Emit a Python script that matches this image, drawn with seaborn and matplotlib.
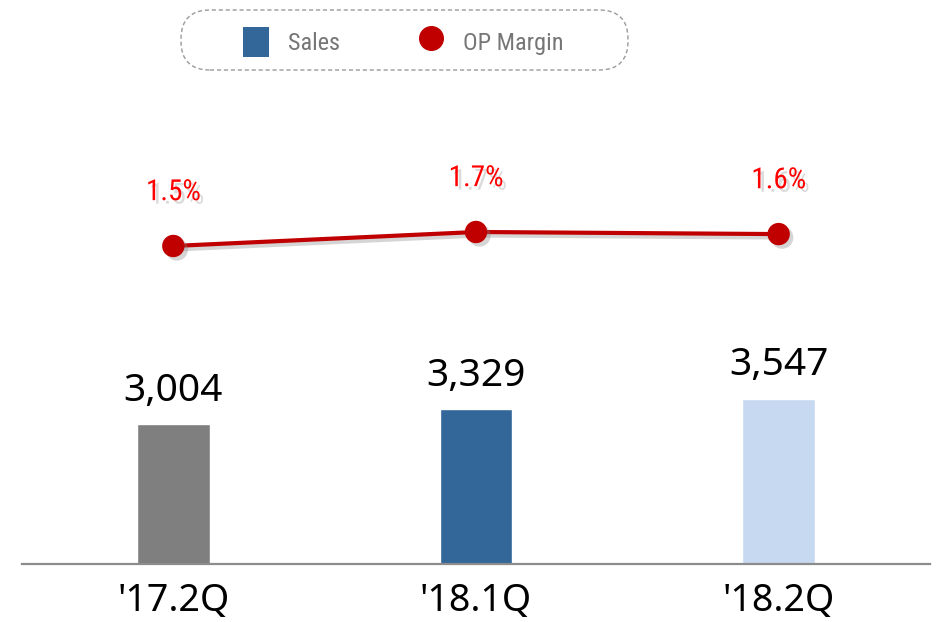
import matplotlib
matplotlib.use("Agg")
import matplotlib.pyplot as plt
import matplotlib.patheffects as pe
from matplotlib import font_manager
from matplotlib.patches import Patch, FancyBboxPatch
from matplotlib.lines import Line2D
import seaborn as sns
import pandas as pd

categories = ["'17.2Q", "'18.1Q", "'18.2Q"]
sales = [3004, 3329, 3547]
sales_labels = ["3,004", "3,329", "3,547"]
op_margin = [1.5, 1.7, 1.67]
op_labels = ["1.5%", "1.7%", "1.6%"]
bar_colors = ["#7f7f7f", "#336699", "#c6d9f1"]
line_color = "#c00000"

available = {f.name for f in font_manager.fontManager.ttflist}
narrow = "DejaVu Sans"
for cand in ["Liberation Sans Narrow", "Roboto Condensed", "Noto Sans Condensed",
             "Open Sans Condensed", "Roboto"]:
    if cand in available:
        narrow = cand
        break

sns.set_theme(style="white")
plt.rcParams['font.family'] = [narrow, 'DejaVu Sans']

df = pd.DataFrame({"cat": categories, "sales": sales})

fig = plt.figure(figsize=(9.37, 6.22), dpi=100)
ax = fig.add_axes([22/937, 58/622, 908/937, 564/622])

sns.barplot(data=df, x="cat", y="sales", hue="cat", palette=bar_colors,
            width=0.24, legend=False, ax=ax, saturation=1)
ax.set_xlim(-0.5, 2.5)
ax.set_ylim(0, 12130)
ax.set_xlabel("")
ax.set_ylabel("")
ax.set_yticks([])
for s in ["top", "left", "right"]:
    ax.spines[s].set_visible(False)
ax.spines["bottom"].set_color("#8c8c8c")
ax.spines["bottom"].set_linewidth(1.6)
ax.tick_params(axis="x", length=0, pad=13, labelsize=27, colors="black")
for lbl in ax.get_xticklabels():
    lbl.set_family(["Noto Sans", "DejaVu Sans"])

for i, (v, t) in enumerate(zip(sales, sales_labels)):
    ax.annotate(t, (i, v), xytext=(0, 17), textcoords="offset points",
                ha="center", va="baseline", fontsize=28, color="black",
                family=["Noto Sans", "DejaVu Sans"])

ax2 = ax.twinx()
xs = list(range(len(categories)))
sns.lineplot(x=xs, y=op_margin, ax=ax2, color=line_color, linewidth=3)
for ln in ax2.get_lines():
    ln.set_path_effects([pe.SimpleLineShadow(offset=(2.5, -2.5), shadow_color="#888888", alpha=0.35),
                         pe.Normal()])
sns.scatterplot(x=xs, y=op_margin, ax=ax2, color=line_color, s=260,
                edgecolor=line_color, linewidth=0, zorder=5)
for col in ax2.collections:
    col.set_path_effects([pe.SimplePatchShadow(offset=(2.5, -2.5), shadow_rgbFace="#888888", alpha=0.35),
                          pe.Normal()])
ax2.set_ylim(-3.043, 5.014)
ax2.set_xlim(-0.5, 2.5)
ax2.set_yticks([])
ax2.set_ylabel("")
for s in ["top", "left", "right", "bottom"]:
    ax2.spines[s].set_visible(False)

for i, (v, t) in enumerate(zip(op_margin, op_labels)):
    ax2.annotate(t, (i, v), xytext=(0, 33), textcoords="offset points",
                 ha="center", va="baseline", fontsize=21, color="#ff0000",
                 path_effects=[pe.SimplePatchShadow(offset=(2.5, -2.5), shadow_rgbFace="#999999", alpha=0.35),
                               pe.Normal()])

# legend frame
frame = FancyBboxPatch((1.81, 5.52), 4.47, 0.60,
                       boxstyle="round,pad=0,rounding_size=0.29",
                       transform=fig.dpi_scale_trans, facecolor="white",
                       edgecolor="#9a9a9a", linestyle=(0, (3, 2)), linewidth=1.0)
fig.patches.append(frame)

handles = [Patch(facecolor="#336699", edgecolor="none"),
           Line2D([], [], linestyle="none", marker="o", markersize=17,
                  markerfacecolor=line_color, markeredgecolor=line_color)]
leg = fig.legend(handles, ["Sales", "OP Margin"], loc="center left",
                 bbox_to_anchor=(243/937, 1 - 42/622), ncol=2, frameon=False,
                 fontsize=17.5, handlelength=1.05, handleheight=1.55,
                 handletextpad=0.8, columnspacing=3.2, borderpad=0, borderaxespad=0)
for txt in leg.get_texts():
    txt.set_color("#767676")

fig.savefig("out.png", dpi=100)
